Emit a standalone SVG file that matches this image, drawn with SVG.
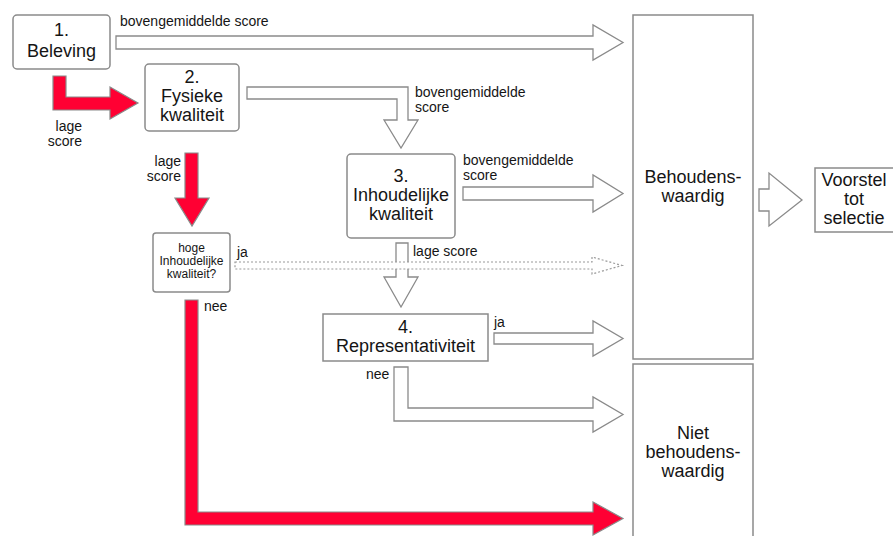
<svg xmlns="http://www.w3.org/2000/svg" width="893" height="536" viewBox="0 0 893 536">
<style>
  .box { fill: #ffffff; stroke: #8a8a8a; stroke-width: 1.5; }
  .t { font-family: "Liberation Sans", Arial, sans-serif; fill: #151515; text-anchor: middle; }
  .big { font-size: 18px; }
  .small { font-size: 12px; }
  .lab { font-family: "Liberation Sans", Arial, sans-serif; font-size: 14px; fill: #151515; }
  .wa { fill: #ffffff; stroke: #8a8a8a; stroke-width: 1.3; stroke-linejoin: miter; }
  .ra { fill: #ff0033; stroke: #8a8a8a; stroke-width: 1.2; }
  .da { fill: #ffffff; stroke: #9a9a9a; stroke-width: 1.2; stroke-dasharray: 2 2; }
</style>
<rect width="893" height="536" fill="#ffffff"/>

<g id="connectors">
  <!-- 1 -> Behoudenswaardig -->
  <path class="wa" d="M116,36 L593,36 L593,25 L623,42.5 L593,60 L593,49 L116,49 Z"/>
  <!-- 1 -> 2 red -->
  <path class="ra" d="M53,76 L66,76 L66,97 L110,97 L110,87 L138,103 L110,119 L110,110 L53,110 Z"/>
  <!-- 2 -> 3 -->
  <path class="wa" d="M247,87 L408,87 L408,120 L418,120 L401,148 L384,120 L397,120 L397,99 L247,99 Z"/>
  <!-- 2 -> hoge red -->
  <path class="ra" d="M185,153 L198,153 L198,198 L209,198 L192,226 L175,198 L185,198 Z"/>
  <!-- 3 -> Behoudenswaardig -->
  <path class="wa" d="M463,187 L593,187 L593,175 L623,193.5 L593,212 L593,200 L463,200 Z"/>
  <!-- 3 -> 4 -->
  <path class="wa" d="M396,243 L408,243 L408,277 L418,277 L401,307 L384,277 L396,277 Z"/>
  <!-- hoge ja -> Behoudenswaardig (dotted) -->
  <path class="da" d="M235,262 L592,262 L592,257 L622,265.5 L592,274 L592,269 L235,269 Z"/>
  <!-- hoge nee -> Niet red -->
  <path class="ra" d="M185,300 L198,300 L198,512 L593,512 L593,502 L623,518.5 L593,535 L593,525 L185,525 Z"/>
  <!-- 4 ja -> Behoudenswaardig -->
  <path class="wa" d="M494,333 L593,333 L593,321 L623,338.5 L593,356 L593,344 L494,344 Z"/>
  <!-- 4 nee -> Niet -->
  <path class="wa" d="M394,367 L408,367 L408,408 L593,408 L593,397 L623,414.5 L593,432 L593,421 L394,421 Z"/>
  <!-- Behoudenswaardig -> Voorstel -->
  <path class="wa" d="M759,189 L769,189 L769,173 L802,200 L769,226 L769,211 L759,211 Z"/>
</g>

<g id="labels">
  <text class="lab" x="120" y="26">bovengemiddelde score</text>
  <text class="lab" x="82" y="131" text-anchor="end">lage</text>
  <text class="lab" x="82" y="146" text-anchor="end">score</text>
  <text class="lab" x="415" y="97">bovengemiddelde</text>
  <text class="lab" x="415" y="112">score</text>
  <text class="lab" x="181" y="166" text-anchor="end">lage</text>
  <text class="lab" x="181" y="181" text-anchor="end">score</text>
  <text class="lab" x="463" y="165">bovengemiddelde</text>
  <text class="lab" x="463" y="180">score</text>
  <text class="lab" x="413" y="256">lage score</text>
  <text class="lab" x="237" y="257">ja</text>
  <text class="lab" x="204" y="311">nee</text>
  <text class="lab" x="494" y="327">ja</text>
  <text class="lab" x="366" y="379">nee</text>
</g>

<g id="n1">
  <rect class="box" x="13" y="15" width="97" height="54" rx="4"/>
  <text class="t big" x="61.5" y="36">1.</text>
  <text class="t big" x="61.5" y="57">Beleving</text>
</g>
<g id="n2">
  <rect class="box" x="145" y="64" width="94" height="67" rx="4"/>
  <text class="t big" x="192" y="83">2.</text>
  <text class="t big" x="192" y="102">Fysieke</text>
  <text class="t big" x="192" y="121">kwaliteit</text>
</g>
<g id="n3">
  <rect class="box" x="347" y="154" width="108" height="84" rx="4"/>
  <text class="t big" x="401" y="182">3.</text>
  <text class="t big" x="401" y="201">Inhoudelijke</text>
  <text class="t big" x="401" y="220">kwaliteit</text>
</g>
<g id="nhoge">
  <rect class="box" x="153" y="233" width="77" height="59" rx="3"/>
  <text class="t small" x="191.5" y="252">hoge</text>
  <text class="t small" x="191.5" y="265">Inhoudelijke</text>
  <text class="t small" x="191.5" y="278">kwaliteit?</text>
</g>
<g id="n4">
  <rect class="box" x="323" y="314" width="165" height="47"/>
  <text class="t big" x="405.5" y="333">4.</text>
  <text class="t big" x="405.5" y="352">Representativiteit</text>
</g>
<g id="behoudenswaardig">
  <rect class="box" x="633" y="15" width="120" height="344"/>
  <text class="t big" x="693" y="183">Behoudens-</text>
  <text class="t big" x="693" y="202">waardig</text>
</g>
<g id="niet">
  <rect class="box" x="633" y="364" width="120" height="180"/>
  <text class="t big" x="693" y="439">Niet</text>
  <text class="t big" x="693" y="458">behoudens-</text>
  <text class="t big" x="693" y="477">waardig</text>
</g>
<g id="voorstel">
  <rect class="box" x="815" y="168" width="80" height="64"/>
  <text class="t big" x="854" y="186">Voorstel</text>
  <text class="t big" x="854" y="205">tot</text>
  <text class="t big" x="854" y="224">selectie</text>
</g>
</svg>
